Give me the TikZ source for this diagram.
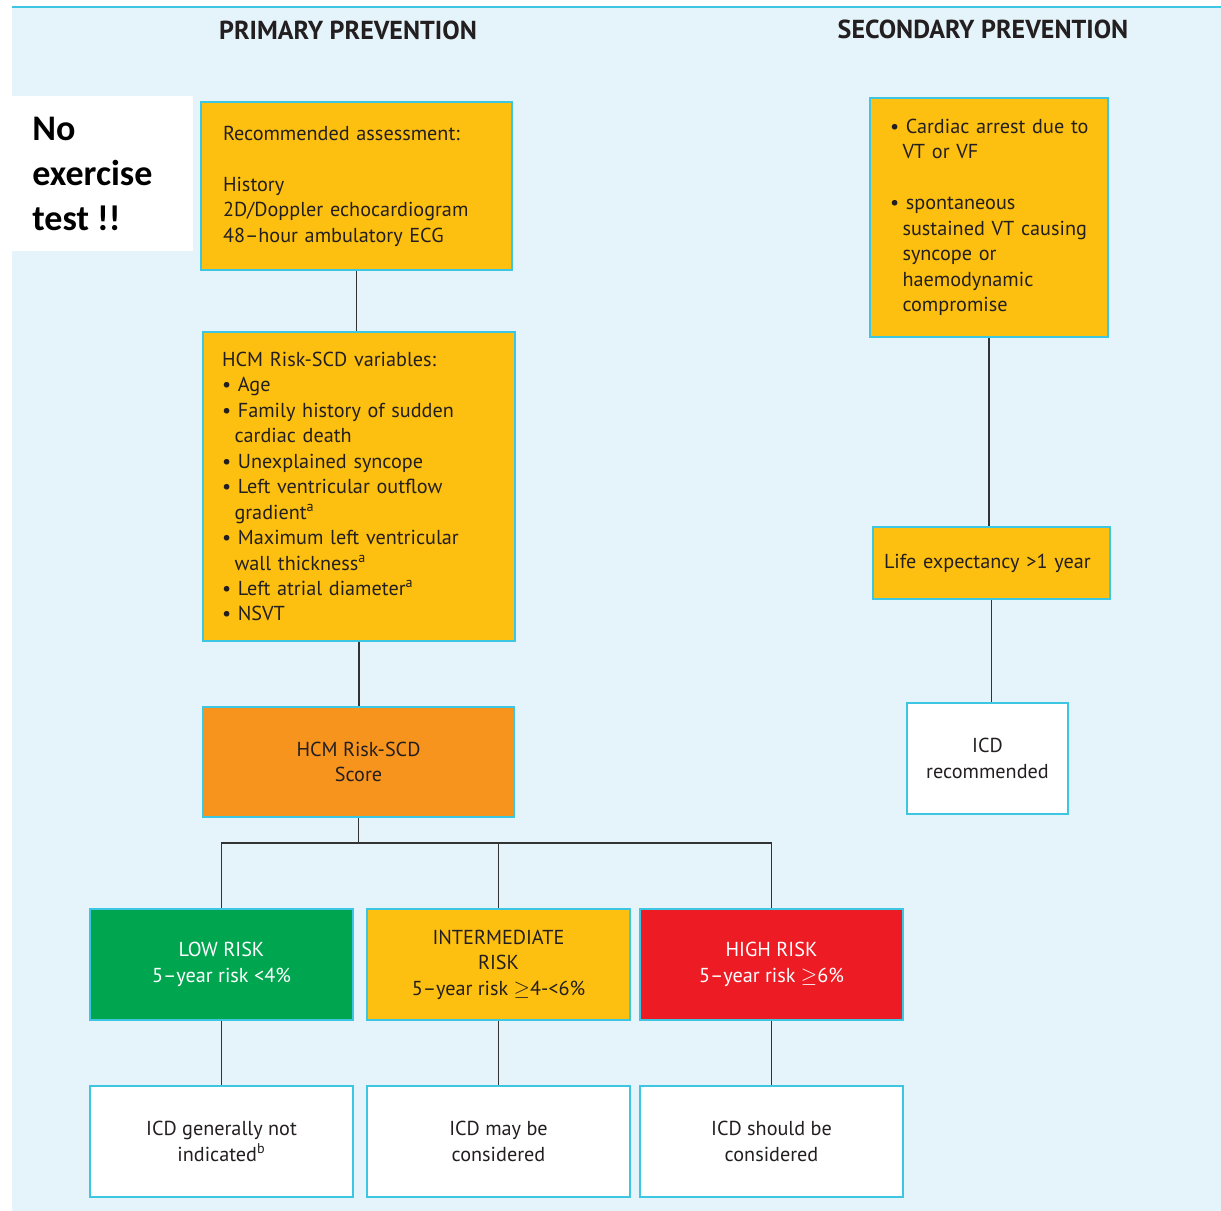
\documentclass[tikz,border=0pt]{standalone}
\usepackage{fontspec}
\setmainfont{PT Sans}
\newfontfamily\notefont{Carlito}
\definecolor{panel}{HTML}{E5F4FA}
\definecolor{boxline}{HTML}{3CC6E2}
\definecolor{ink}{HTML}{231F20}
\definecolor{amber}{HTML}{FDC010}
\definecolor{score}{HTML}{F7941D}
\definecolor{lowrisk}{HTML}{00A550}
\definecolor{highrisk}{HTML}{ED1C24}
\definecolor{link}{HTML}{333333}
\newcommand{\bodyfont}{\fontsize{11.5}{14.5}\selectfont\hyphenpenalty=10000}
\newcommand{\hang}{\hspace*{0.25cm}}
\newcommand{\atleast}{$\geq$}
\tikzset{
  box/.style={draw=boxline, line width=0.8pt, font=\bodyfont, text=ink, inner sep=0pt},
  leftbox/.style={box, align=left, inner xsep=0.44cm},
  midbox/.style={box, align=center, minimum width=5.26cm, minimum height=2.22cm},
  outcome/.style={midbox, fill=white},
  header/.style={font=\bfseries\fontsize{14.8}{17}\selectfont, text=ink},
  conn/.style={draw=link, line width=0.8pt}
}
\begin{document}
\begin{tikzpicture}
  \useasboundingbox (0,0) rectangle (24.42,-24.22);
  % panel
  \fill[panel] (0.24,-0.14) rectangle (24.42,-24.22);
  \draw[boxline, line width=0.8pt] (0.24,-0.14) -- (24.42,-0.14);
  \fill[white] (0.24,-1.92) rectangle (3.86,-5.02);
  \node[anchor=west, align=left, inner sep=0pt,
        font=\notefont\bfseries\fontsize{20.5}{25.6}\selectfont] (note) at (0.64,-3.48)
        {No\\exercise\\test !!};
  % headers
  \node[header] (primary) at (6.96,-0.60) {PRIMARY PREVENTION};
  \node[header] (secondary) at (19.66,-0.58) {SECONDARY PREVENTION};
  % primary prevention
  \node[leftbox, fill=amber, text width=5.34cm, minimum height=3.36cm] (assess) at (7.13,-3.72)
    {Recommended assessment:\\[14.5pt]History\\2D/Doppler echocardiogram\\48–hour ambulatory ECG};
  \node[leftbox, inner xsep=0.38cm, fill=amber, text width=5.48cm, minimum height=6.18cm] (vars) at (7.18,-9.73)
    {HCM Risk-SCD variables:\\
     \textbullet\ Age\\
     \textbullet\ Family history of sudden\\ \hang cardiac death\\
     \textbullet\ Unexplained syncope\\
     \textbullet\ Left ventricular outflow\\ \hang gradient\textsuperscript{a}\\
     \textbullet\ Maximum left ventricular\\ \hang wall thickness\textsuperscript{a}\\
     \textbullet\ Left atrial diameter\textsuperscript{a}\\
     \textbullet\ NSVT};
  \node[box, fill=score, align=center, minimum width=6.22cm, minimum height=2.20cm] (riskscore) at (7.17,-15.24)
    {HCM Risk-SCD\\Score};
  \node[midbox, fill=lowrisk, text=white] (low) at (4.43,-19.29) {LOW RISK\\5–year risk <4\%};
  \node[midbox, fill=amber] (mid) at (9.97,-19.29) {INTERMEDIATE\\RISK\\5–year risk \atleast4-<6\%};
  \node[midbox, fill=highrisk, text=white] (high) at (15.43,-19.29) {HIGH RISK\\5–year risk \atleast6\%};
  \node[outcome] (lowicd) at (4.43,-22.83) {ICD generally not\\indicated\textsuperscript{b}};
  \node[outcome] (midicd) at (9.97,-22.83) {ICD may be\\considered};
  \node[outcome] (highicd) at (15.43,-22.83) {ICD should be\\considered};
  % secondary prevention
  \node[leftbox, inner xsep=0.40cm, fill=amber, text width=3.96cm, minimum height=4.78cm] (arrest) at (19.78,-4.35)
    {\mbox{\textbullet\ Cardiac arrest due to}\\ \hang VT or VF\\[14.5pt]
     \textbullet\ spontaneous\\ \hang sustained VT causing\\ \hang syncope or\\ \hang haemodynamic\\ \hang compromise};
  \node[leftbox, inner xsep=0.22cm, fill=amber, text width=4.30cm, minimum height=1.44cm] (life) at (19.83,-11.26)
    {Life expectancy >1 year};
  \node[box, fill=white, align=center, minimum width=3.22cm, minimum height=2.22cm] (icdrec) at (19.75,-15.17)
    {ICD\\recommended};
  % connectors
  \draw[conn] (assess.south) -- (assess.south |- vars.north);
  \draw[conn] (vars.south) -- (vars.south |- riskscore.north);
  \coordinate (split) at (7.17,-16.86);
  \draw[conn] (riskscore.south) -- (split);
  \draw[conn] (low.north) |- (split) -| (high.north);
  \draw[conn] (mid.north) -- (mid.north |- split);
  \draw[conn] (low) -- (lowicd);
  \draw[conn] (mid) -- (midicd);
  \draw[conn] (high) -- (highicd);
  \draw[conn] (arrest.south) -- (arrest.south |- life.north);
  \draw[conn] (life.south) -- (life.south |- icdrec.north);
\end{tikzpicture}
\end{document}
